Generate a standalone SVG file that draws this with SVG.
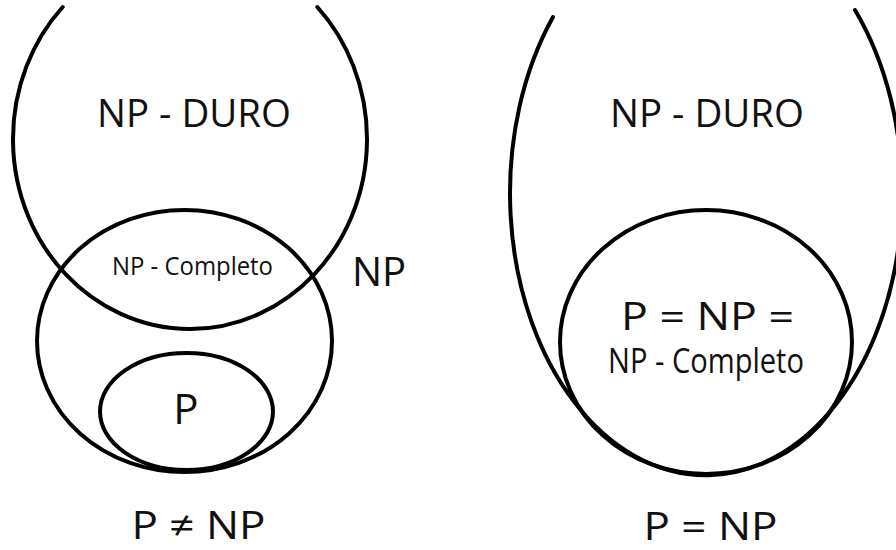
<svg xmlns="http://www.w3.org/2000/svg" width="896" height="550" viewBox="0 0 896 550">
  <style>
    .set { fill: none; stroke: #000; stroke-width: 4; stroke-linecap: round; }
    .lbl { font-family: "Open Sans", "Liberation Sans", sans-serif; font-weight: 370; fill: #111; }
  </style>
  <rect width="896" height="550" fill="#fff"/>

  <!-- Left: P != NP -->
  <g id="np-duro-left">
    <path class="set" d="M 62.7 7 A 177 190 0 1 0 317.3 7"/>
    <text class="lbl" x="194" y="127" font-size="39" text-anchor="middle" textLength="194" lengthAdjust="spacingAndGlyphs">NP - DURO</text>
  </g>
  <g id="np-left">
    <ellipse class="set" cx="184.5" cy="341" rx="147.5" ry="131"/>
    <text class="lbl" x="352" y="286" font-size="40">NP</text>
  </g>
  <g id="np-completo-left">
    <text class="lbl" x="192.5" y="275" font-size="26" text-anchor="middle" textLength="161" lengthAdjust="spacingAndGlyphs">NP - Completo</text>
  </g>
  <g id="p-left">
    <ellipse class="set" cx="186.5" cy="411.5" rx="86.5" ry="58.5"/>
    <text class="lbl" x="186" y="424" font-size="42" text-anchor="middle">P</text>
  </g>
  <g id="caption-left">
    <text class="lbl" x="198.5" y="539" font-size="38" text-anchor="middle" textLength="134" lengthAdjust="spacingAndGlyphs">P ≠ NP</text>
  </g>

  <!-- Right: P = NP -->
  <g id="np-duro-right">
    <path class="set" d="M 553 17 A 196 282 0 1 0 855 10"/>
    <text class="lbl" x="707" y="127" font-size="39" text-anchor="middle" textLength="194" lengthAdjust="spacingAndGlyphs">NP - DURO</text>
  </g>
  <g id="p-np-completo-right">
    <ellipse class="set" cx="706" cy="342" rx="146" ry="132"/>
    <text class="lbl" x="707.5" y="330" font-size="38" text-anchor="middle" textLength="173" lengthAdjust="spacingAndGlyphs">P = NP =</text>
    <text class="lbl" x="706" y="373" font-size="34" text-anchor="middle" textLength="196" lengthAdjust="spacingAndGlyphs">NP - Completo</text>
  </g>
  <g id="caption-right">
    <text class="lbl" x="710.5" y="540" font-size="38" text-anchor="middle" textLength="134" lengthAdjust="spacingAndGlyphs">P = NP</text>
  </g>
</svg>
